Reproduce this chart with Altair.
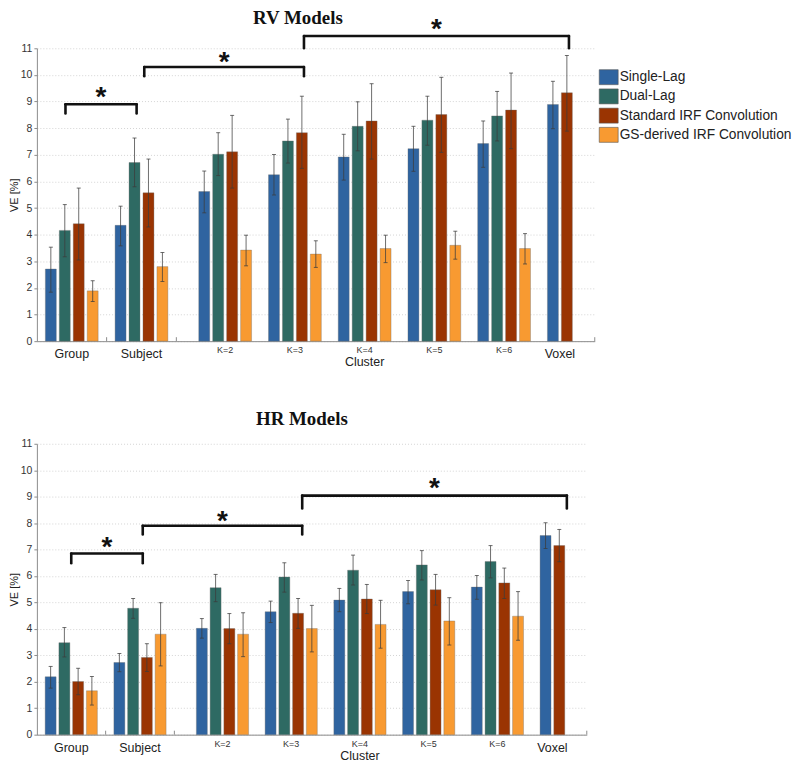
import altair as alt
import pandas as pd

# ---------------- data ----------------
categories = ["Group", "Subject", "K=2", "K=3", "K=4", "K=5", "K=6", "Voxel"]
cat_pos = [0.5, 1.5, 2.7, 3.7, 4.7, 5.7, 6.7, 7.5]
series = ["Single-Lag", "Dual-Lag", "Standard IRF Convolution", "GS-derived IRF Convolution"]
colors = ["#2f64a0", "#2e6a63", "#9a3402", "#f89a31"]
slot_offsets = [-0.3, -0.1, 0.1, 0.3]
voxel_series = ["Single-Lag", "Standard IRF Convolution"]
voxel_offsets = [-0.1, 0.1]

# RV models: value, low, high per series (Group..K=6), Voxel separately
rv_single = [2.71, 4.35, 5.62, 6.25, 6.92, 7.23, 7.42]
rv_single_lo = [1.84, 3.58, 4.82, 5.49, 6.05, 6.38, 6.53]
rv_single_hi = [3.53, 5.07, 6.39, 7.01, 7.77, 8.07, 8.27]
rv_dual = [4.16, 6.71, 7.02, 7.52, 8.07, 8.30, 8.46]
rv_dual_lo = [3.17, 5.80, 6.22, 6.69, 7.15, 7.36, 7.52]
rv_dual_hi = [5.13, 7.63, 7.83, 8.34, 8.99, 9.20, 9.38]
rv_std = [4.41, 5.57, 7.11, 7.83, 8.27, 8.51, 8.68]
rv_std_lo = [3.05, 4.29, 5.75, 6.49, 6.84, 7.09, 7.23]
rv_std_hi = [5.75, 6.84, 8.48, 9.20, 9.67, 9.91, 10.07]
rv_gs = [1.89, 2.80, 3.42, 3.27, 3.48, 3.60, 3.48]
rv_gs_lo = [1.49, 2.24, 2.83, 2.77, 2.95, 3.08, 2.90]
rv_gs_hi = [2.27, 3.33, 3.98, 3.77, 3.98, 4.13, 4.04]
rv_voxel = [8.89, 9.33]
rv_voxel_lo = [7.98, 7.89]
rv_voxel_hi = [9.76, 10.73]

# HR models
hr_single = [2.19, 2.73, 4.02, 4.65, 5.09, 5.41, 5.58]
hr_single_lo = [1.76, 2.38, 3.65, 4.24, 4.65, 4.95, 5.12]
hr_single_hi = [2.58, 3.07, 4.39, 5.05, 5.53, 5.83, 6.02]
hr_dual = [3.48, 4.78, 5.56, 5.96, 6.22, 6.42, 6.55]
hr_dual_lo = [2.94, 4.40, 5.03, 5.39, 5.66, 5.85, 5.93]
hr_dual_hi = [4.05, 5.15, 6.06, 6.50, 6.79, 6.96, 7.15]
hr_std = [2.01, 2.92, 4.01, 4.59, 5.13, 5.48, 5.74]
hr_std_lo = [1.51, 2.39, 3.44, 4.02, 4.58, 4.90, 5.15]
hr_std_hi = [2.51, 3.44, 4.58, 5.15, 5.68, 6.06, 6.30]
hr_gs = [1.66, 3.80, 3.80, 4.01, 4.17, 4.30, 4.48]
hr_gs_lo = [1.12, 2.60, 2.95, 3.13, 3.27, 3.39, 3.57]
hr_gs_hi = [2.20, 4.99, 4.61, 4.89, 5.08, 5.18, 5.41]
hr_voxel = [7.53, 7.15]
hr_voxel_lo = [7.04, 6.54]
hr_voxel_hi = [8.01, 7.76]

# significance brackets: [x_left, x_right, y_top, y_leg_left, y_leg_right], star y
rv_brackets = [[0.41, 1.43, 8.90, 8.55, 8.55], [1.54, 3.83, 10.30, 9.95, 9.95], [3.83, 7.63, 11.46, 11.0, 11.0]]
rv_stars = [9.40, 10.72, 11.95]
hr_brackets = [[0.50, 1.54, 6.85, 6.48, 6.48], [1.54, 3.86, 7.90, 7.57, 7.57], [3.86, 7.71, 9.04, 8.55, 8.55]]
hr_stars = [7.34, 8.32, 9.57]

separator_ticks = [1, 2, 8]
big_labels = ["Group", "Subject", "Voxel"]
panel_titles = ["RV Models", "HR Models"]


def build_bars(vals, los, his, vox, vox_lo, vox_hi):
    rows = []
    for s_i, s in enumerate(series):
        for c_i, c in enumerate(categories[:-1]):
            rows.append(dict(series=s, cat=c, pos=cat_pos[c_i] + slot_offsets[s_i],
                             val=vals[s_i][c_i], lo=los[s_i][c_i], hi=his[s_i][c_i]))
    for v_i, s in enumerate(voxel_series):
        rows.append(dict(series=s, cat="Voxel", pos=cat_pos[-1] + voxel_offsets[v_i],
                         val=vox[v_i], lo=vox_lo[v_i], hi=vox_hi[v_i]))
    return pd.DataFrame(rows)


FONT = "Liberation Sans"
Y_SCALE = alt.Scale(domain=[0, 11], nice=False, zero=True, padding=0)
X_SCALE = alt.Scale(domain=[0, 8], nice=False, zero=False, padding=0)
Y_AXIS = alt.Axis(title="VE [%]", values=list(range(12)), grid=True,
                  gridColor="#d4d4d4", gridDash=[1, 2], gridWidth=1,
                  ticks=True, tickSize=3, tickColor="#8c8c8c", labelPadding=2, labelOverlap=False,
                  labelFont=FONT, labelFontSize=10.5, labelColor="#333333",
                  titleFont=FONT, titleFontSize=11, titleFontWeight="normal",
                  titleColor="#222222", titlePadding=1,
                  domainColor="#8c8c8c")
X_AXIS = alt.Axis(title=None, labels=False, ticks=False, grid=False,
                  domainColor="#8c8c8c", domainWidth=1)


def X(field):
    return alt.X(field, scale=X_SCALE, axis=X_AXIS)


def Y(field):
    return alt.Y(field, scale=Y_SCALE, axis=Y_AXIS)


def panel(df, brackets, stars, title, title_x, title_y, width, height, show_legend):
    if show_legend:
        legend = alt.Legend(
            title=None, orient="none", legendX=564, legendY=19,
            symbolType="M-1,-0.79H1V0.79H-1Z", symbolSize=361,
            symbolStrokeColor="#555555", symbolStrokeWidth=0.6, symbolOpacity=1,
            labelFont=FONT, labelFontSize=13.8, labelColor="#222222",
            labelOffset=1, rowPadding=0.3, padding=0, labelLimit=300)
    else:
        legend = None

    bars = alt.Chart(df).mark_bar(size=11, stroke="#6b6b6b", strokeWidth=0.5, strokeOpacity=0.7).encode(
        x=X("pos:Q"),
        y=Y("val:Q"),
        color=alt.Color("series:N", scale=alt.Scale(domain=series, range=colors), legend=legend),
    )
    err = alt.Chart(df).mark_rule(color="#3c3c3c", strokeWidth=1, opacity=0.75).encode(
        x=X("pos:Q"), y=Y("lo:Q"), y2="hi:Q")
    cap_lo = alt.Chart(df).mark_tick(orient="horizontal", size=4, thickness=1, color="#3c3c3c", opacity=0.75).encode(
        x=X("pos:Q"), y=Y("lo:Q"))
    cap_hi = alt.Chart(df).mark_tick(orient="horizontal", size=4, thickness=1, color="#3c3c3c", opacity=0.75).encode(
        x=X("pos:Q"), y=Y("hi:Q"))

    bdf = pd.DataFrame(brackets, columns=["x1", "x2", "yt", "yl1", "yl2"])
    bdf["star"] = stars
    bdf["xm"] = (bdf["x1"] + bdf["x2"]) / 2
    br_style = dict(color="#111111", strokeWidth=2.6, strokeCap="round")
    br_h = alt.Chart(bdf).mark_rule(**br_style).encode(x=X("x1:Q"), x2="x2:Q", y=Y("yt:Q"))
    br_l = alt.Chart(bdf).mark_rule(**br_style).encode(x=X("x1:Q"), y=Y("yt:Q"), y2="yl1:Q")
    br_r = alt.Chart(bdf).mark_rule(**br_style).encode(x=X("x2:Q"), y=Y("yt:Q"), y2="yl2:Q")
    star = alt.Chart(bdf).mark_text(text="*", font=FONT, fontSize=28, fontWeight="bold",
                                    color="#111111", baseline="alphabetic", dy=15).encode(
        x=X("xm:Q"), y=Y("star:Q"))

    tdf = pd.DataFrame({"pos": separator_ticks, "y0": [0] * len(separator_ticks),
                        "y1": [0.15] * len(separator_ticks)})
    septicks = alt.Chart(tdf).mark_rule(color="#8c8c8c", strokeWidth=1).encode(
        x=X("pos:Q"), y=Y("y0:Q"), y2="y1:Q")

    ldf = pd.DataFrame({"cat": categories, "pos": cat_pos})
    ldf["big"] = ldf["cat"].isin(big_labels)
    lab_big = alt.Chart(ldf[ldf["big"]]).mark_text(font=FONT, fontSize=12.5, color="#222222",
                                                   baseline="middle").encode(
        x=X("pos:Q"), y=alt.value(height + 13), text="cat:N")
    lab_small = alt.Chart(ldf[~ldf["big"]]).mark_text(font=FONT, fontSize=9, color="#333333",
                                                      baseline="middle").encode(
        x=X("pos:Q"), y=alt.value(height + 9), text="cat:N")
    cdf = pd.DataFrame({"txt": ["Cluster"], "pos": [cat_pos[4]]})
    lab_cluster = alt.Chart(cdf).mark_text(font=FONT, fontSize=12.5, color="#222222",
                                           baseline="middle").encode(
        x=X("pos:Q"), y=alt.value(height + 21), text="txt:N")

    ttl = alt.Chart(pd.DataFrame({"t": [title]})).mark_text(
        font="Liberation Serif", fontSize=19, fontWeight="bold", color="#111111",
        baseline="top", align="center").encode(
        x=alt.value(title_x), y=alt.value(title_y), text="t:N")

    return alt.layer(bars, err, cap_lo, cap_hi, septicks, br_h, br_l, br_r, star,
                     lab_big, lab_small, lab_cluster, ttl).properties(width=width, height=height)


rv_df = build_bars([rv_single, rv_dual, rv_std, rv_gs],
                   [rv_single_lo, rv_dual_lo, rv_std_lo, rv_gs_lo],
                   [rv_single_hi, rv_dual_hi, rv_std_hi, rv_gs_hi],
                   rv_voxel, rv_voxel_lo, rv_voxel_hi)
hr_df = build_bars([hr_single, hr_dual, hr_std, hr_gs],
                   [hr_single_lo, hr_dual_lo, hr_std_lo, hr_gs_lo],
                   [hr_single_hi, hr_dual_hi, hr_std_hi, hr_gs_hi],
                   hr_voxel, hr_voxel_lo, hr_voxel_hi)

top = panel(rv_df, rv_brackets, rv_stars, panel_titles[0], 262, -39, 560, 294, True)
bottom = panel(hr_df, hr_brackets, hr_stars, panel_titles[1], 266, -34, 552, 292, False)

chart = alt.vconcat(top, bottom, spacing=41).properties(
    padding={"left": 0, "top": 0, "right": 0, "bottom": 0},
    background="white",
).configure_view(stroke="transparent", strokeWidth=0)

chart.save("out.html", embed_options={"renderer": "svg", "actions": False})
